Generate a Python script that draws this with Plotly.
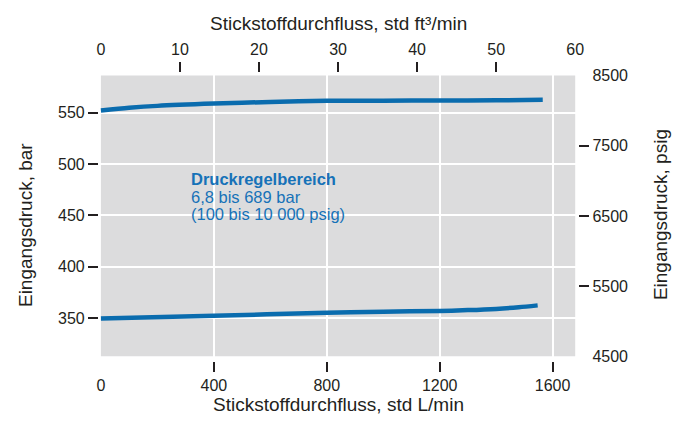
import plotly.graph_objects as go

# ---- data ----
flow_upper_lpm = [0, 100, 200, 400, 600, 800, 1000, 1200, 1400, 1565]
p_upper_bar = [552.2, 554.8, 556.7, 558.9, 560.5, 561.6, 561.8, 561.9, 562.1, 562.6]

flow_lower_lpm = [0, 400, 800, 1000, 1200, 1300, 1400, 1480, 1547]
p_lower_bar = [349.7, 352.2, 355.3, 356.3, 357.0, 357.8, 359.0, 360.6, 362.4]

x_ticks_lpm = [400, 800, 1200, 1600]
x_ticks_cfm = [10, 20, 30, 40, 50]
x_ticks_cfm_end = [0, 60]
y_ticks_bar = [350, 400, 450, 500, 550]
y_ticks_psig = [5500, 6500, 7500]
y_ticks_psig_end = [4500, 8500]

title_bottom = "Stickstoffdurchfluss, std L/min"
title_top = "Stickstoffdurchfluss, std ft³/min"
title_left = "Eingangsdruck, bar"
title_right = "Eingangsdruck, psig"
note_lines = ["<b>Druckregelbereich</b>", "6,8 bis 689 bar", "(100 bis 10 000 psig)"]

# ---- layout geometry: the page adds an 8 px body margin on every side ----
OFF = 8
W, H = 690 - 2 * OFF, 424 - 2 * OFF
def px(x):
    return (x - OFF) / W
def py(y):
    return 1 - (y - OFF) / H

FONT = "Liberation Sans, Arial, sans-serif"
TXT = "#231f20"
BLUE = "#0a6cae"
NOTE_BLUE = "#1672b8"
BG = "#dcdcdd"

x_range = [-7, 1690.5]
x2_range = [-0.25, 60.375]
y_range = [308.1, 589.05]
y2_range = [4430.4, 8541.8]

fig = go.Figure()
fig.add_trace(go.Scatter(x=flow_upper_lpm, y=p_upper_bar, mode="lines",
                         line=dict(color=BLUE, width=4.5, shape="spline", smoothing=0.8),
                         showlegend=False, hoverinfo="skip"))
fig.add_trace(go.Scatter(x=flow_lower_lpm, y=p_lower_bar, mode="lines",
                         line=dict(color=BLUE, width=4.5, shape="spline", smoothing=0.8),
                         showlegend=False, hoverinfo="skip"))
# empty traces so the secondary axes are drawn
for xa, ya in [("x2", "y"), ("x3", "y"), ("x4", "y"), ("x", "y2"), ("x", "y3")]:
    fig.add_trace(go.Scatter(x=[None], y=[None], xaxis=xa, yaxis=ya, mode="lines",
                             showlegend=False, hoverinfo="skip"))

tickfont = dict(family=FONT, size=16, color=TXT)
common = dict(ticks="outside", ticklen=10, tickwidth=1.5, tickcolor=TXT,
              showline=False, zeroline=False, tickfont=tickfont, fixedrange=True)

xdom = [px(98), px(583)]
ydom = [py(364), py(69)]

fig.update_layout(
    width=W, height=H, autosize=False,
    margin=dict(l=0, r=0, t=0, b=0),
    paper_bgcolor="white", plot_bgcolor="rgba(0,0,0,0)",
    font=dict(family=FONT, color=TXT),
    xaxis=dict(domain=xdom, range=x_range, tickvals=x_ticks_lpm, showgrid=True,
               gridcolor="white", gridwidth=1.5, anchor="y", side="bottom", **common),
    xaxis2=dict(domain=xdom, range=x2_range, tickvals=x_ticks_cfm, showgrid=False,
                overlaying="x", anchor="y", side="top", **common),
    xaxis3=dict(domain=xdom, range=x_range, tickvals=[0], showgrid=False,
                overlaying="x", anchor="y", side="bottom",
                **{**common, "tickcolor": "rgba(0,0,0,0)"}),
    xaxis4=dict(domain=xdom, range=x2_range, tickvals=x_ticks_cfm_end, showgrid=False,
                overlaying="x", anchor="y", side="top",
                **{**common, "tickcolor": "rgba(0,0,0,0)"}),
    yaxis=dict(domain=ydom, range=y_range, tickvals=y_ticks_bar, showgrid=True,
               gridcolor="white", gridwidth=1.5, anchor="x", side="left", **common),
    yaxis2=dict(domain=ydom, range=y2_range, tickvals=y_ticks_psig, showgrid=False,
                overlaying="y", anchor="x", side="right", **common),
    yaxis3=dict(domain=ydom, range=y2_range, tickvals=y_ticks_psig_end, showgrid=False,
                overlaying="y", anchor="x", side="right",
                **{**common, "tickcolor": "rgba(0,0,0,0)"}),
    shapes=[dict(type="rect", xref="paper", yref="paper",
                 x0=px(100), x1=px(580), y0=py(359), y1=py(72),
                 fillcolor=BG, line=dict(width=0), layer="below")],
)

tfont = dict(family=FONT, size=19, color=TXT)
ann = [
    dict(text=title_bottom, x=px(340), y=py(408), xanchor="center", yanchor="middle", font=tfont),
    dict(text=title_top, x=px(340), y=py(18.5), xanchor="center", yanchor="middle", font=tfont),
    dict(text=title_left, x=px(23), y=py(225), xanchor="center", yanchor="middle",
         textangle=-90, font=tfont),
    dict(text=title_right, x=px(667), y=py(214.5), xanchor="center", yanchor="middle",
         textangle=-90, font=tfont),
]
nfont = dict(family=FONT, size=16.5, color=NOTE_BLUE)
for line, yc in zip(note_lines, [177.5, 196, 214]):
    ann.append(dict(text=line, x=px(189), y=py(yc), xanchor="left", yanchor="middle",
                    font=nfont))
for a in ann:
    a.update(xref="paper", yref="paper", showarrow=False)
fig.update_layout(annotations=ann)

fig.write_html("out.html")
